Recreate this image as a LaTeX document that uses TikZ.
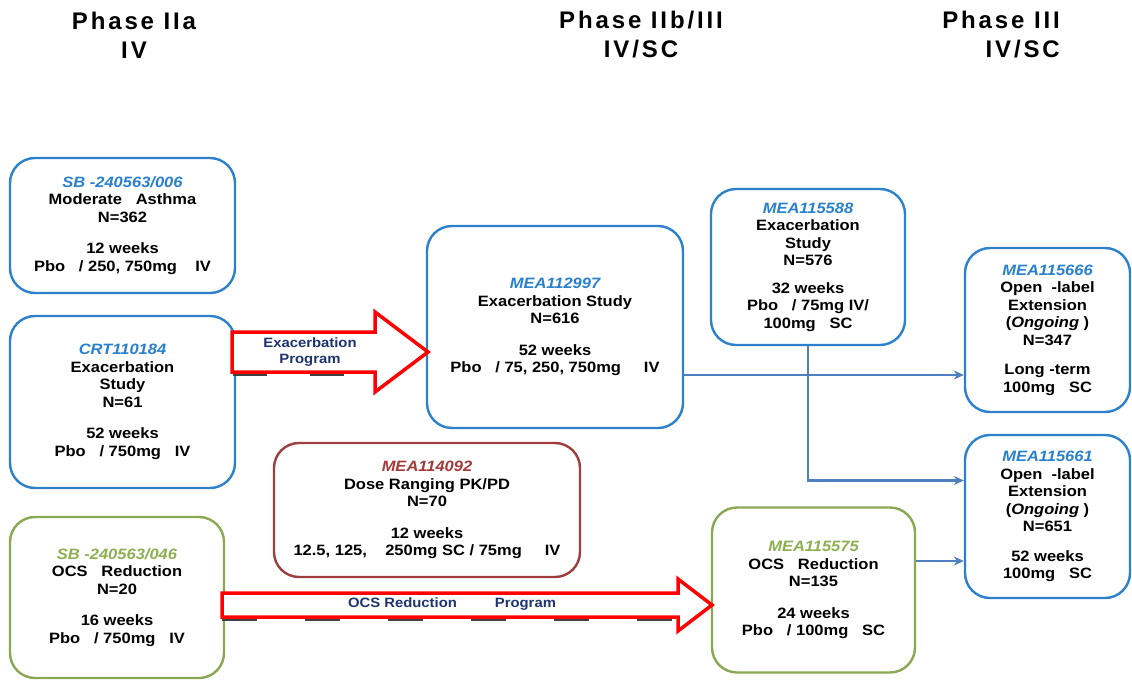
\documentclass[tikz,border=0pt]{standalone}
\usepackage{fontspec}
\setmainfont{Liberation Sans}
\newfontfamily\boxfont[FakeStretch=1.1]{Liberation Sans}
\newfontfamily\headfont[LetterSpace=12]{Liberation Sans}
\usepackage{tikz}
\usetikzlibrary{arrows.meta}

\definecolor{studyblue}{RGB}{45,128,202}
\definecolor{idblue}{RGB}{40,128,206}
\definecolor{studygreen}{RGB}{138,168,82}
\definecolor{idgreen}{RGB}{140,176,80}
\definecolor{studyred}{RGB}{158,62,62}
\definecolor{idred}{RGB}{165,56,58}
\definecolor{linkblue}{RGB}{78,128,192}
\definecolor{prognavy}{RGB}{30,52,112}

\newcommand{\studyid}[2]{{\color{#1}\itshape #2}\\}

\begin{document}
\begin{tikzpicture}[x=1pt, y=-1pt, >={Stealth[length=10pt,width=9pt]}]
    \tikzstyle{study} = [rectangle, rounded corners=25pt, draw=studyblue, line width=2.4pt, fill=white, align=center, inner sep=0pt, font=\boxfont\bfseries\fontsize{15}{17.5}\selectfont]
    \tikzstyle{phase} = [inner sep=0pt, font=\headfont\bfseries\fontsize{24}{29}\selectfont]
    \tikzstyle{progarrow} = [draw=red, line width=3.5pt, fill=white, line join=miter]
    \tikzstyle{progtext} = [inner sep=0pt, align=center, text=prognavy, font=\boxfont\bfseries\fontsize{13.5}{15.5}\selectfont]
    \tikzstyle{shadowdash} = [draw=black!75, line width=2pt]
    \tikzstyle{link} = [draw=linkblue, line width=2.8pt, ->]

    \useasboundingbox (0,0) rectangle (1132,680);

    % Phase headers
    \node[phase, align=center] (ph2a) at (134,35) {Phase IIa\\IV};
    \node[phase, align=center] (ph2b) at (641,35) {Phase IIb/III\\IV/SC};
    \node[phase, align=right, anchor=east] (ph3) at (1060,35) {Phase III\\IV/SC};

    % Phase IIa studies
    \node[study, minimum width=225, minimum height=135] (sb006) at (122.5,225.5)
        {\studyid{idblue}{SB -240563/006}Moderate\ \ \ Asthma\\N=362\\[14pt]12 weeks\\Pbo\ \ \ / 250, 750mg\ \ \ \ IV};
    \node[study, minimum width=225, minimum height=172] (crt110184) at (122.5,402)
        {\studyid{idblue}{CRT110184}Exacerbation\\Study\\N=61\\[14pt]52 weeks\\Pbo\ \ \ / 750mg\ \ \ IV};
    \node[study, draw=studygreen, minimum width=214, minimum height=161] (sb046) at (117,597.5)
        {\studyid{idgreen}{SB -240563/046}OCS\ \ \ Reduction\\N=20\\[14pt]16 weeks\\Pbo\ \ \ / 750mg\ \ \ IV};

    % Phase IIb/III studies
    \node[study, minimum width=256, minimum height=202] (mea112997) at (555,327)
        {\studyid{idblue}{MEA112997}Exacerbation Study\\N=616\\[14pt]52 weeks\\Pbo\ \ \ / 75, 250, 750mg\ \ \ \ \ IV};
    \node[study, draw=studyred, minimum width=306, minimum height=134] (mea114092) at (427,510)
        {\studyid{idred}{MEA114092}Dose Ranging PK/PD\\N=70\\[14pt]12 weeks\\12.5, 125,\ \ \ \ 250mg SC / 75mg\ \ \ \ \ IV};
    \node[study, minimum width=194, minimum height=156] (mea115588) at (808,267)
        {\studyid{idblue}{MEA115588}Exacerbation\\Study\\N=576\\[10pt]32 weeks\\Pbo\ \ \ / 75mg IV/\\100mg\ \ \ SC};

    % Phase III studies
    \node[study, minimum width=165, minimum height=164] (mea115666) at (1047.5,330)
        {\studyid{idblue}{MEA115666}Open\ \ -label\\Extension\\(\textit{Ongoing}\ )\\N=347\\[12pt]Long -term\\100mg\ \ \ SC};
    \node[study, minimum width=165, minimum height=163] (mea115661) at (1047.5,516.5)
        {\studyid{idblue}{MEA115661}Open\ \ -label\\Extension\\(\textit{Ongoing}\ )\\N=651\\[12pt]52 weeks\\100mg\ \ \ SC};
    \node[study, draw=studygreen, minimum width=203, minimum height=165] (mea115575) at (813.5,590)
        {\studyid{idgreen}{MEA115575}OCS\ \ \ Reduction\\N=135\\[14pt]24 weeks\\Pbo\ \ \ / 100mg\ \ \ SC};

    % Connectors
    \coordinate (c1) at ([yshift=-48pt]mea112997.east);
    \coordinate (c3) at ([yshift=29pt]mea115575.east);
    \draw[link] (c1) -- (c1 -| mea115666.west);
    \draw[link] (mea115588.south) |- ([yshift=36pt]mea115661.west);
    \draw[link] (c3) -- (c3 -| mea115661.west);

    % Program arrows
    \draw[shadowdash, dash pattern=on 34pt off 43pt] (233,375) -- (380,375);
    \draw[progarrow] (232,332) -- (375,332) -- (375,312) -- (428,352) -- (375,392) -- (375,372) -- (232,372) -- cycle;
    \node[progtext] (exacprog) at (310,352) {Exacerbation\\Program};

    \draw[shadowdash, dash pattern=on 35pt off 48pt] (222,620) -- (678,620);
    \draw[progarrow] (222,593) -- (678,593) -- (678,579) -- (712,605) -- (678,631) -- (678,617) -- (222,617) -- cycle;
    \node[progtext] (ocsprog) at (452,604) {OCS Reduction\hspace{38pt}Program};
\end{tikzpicture}
\end{document}
